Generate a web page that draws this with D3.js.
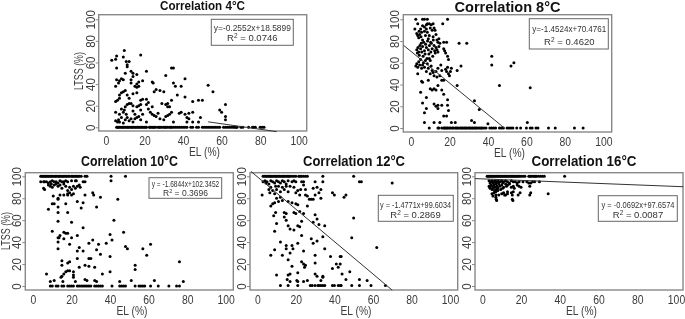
<!DOCTYPE html>
<html>
<head>
<meta charset="utf-8">
<script src="https://cdn.jsdelivr.net/npm/d3@7"></script>
<style>
    html, body { margin: 0; padding: 0; background: #fff; overflow: hidden; }
    svg { display: block; filter: blur(0.35px); }
    text { font-family: "Liberation Sans", Arial, sans-serif; }
</style>
</head>
<body>
<svg id="chart" width="685" height="319"></svg>
<script>
// Tick labels
var tickValues = [0, 20, 40, 60, 80, 100];

// Points per chart, [EL, LTSS]
var points4 = [[3,62],[5,63],[5.5,66],[9,65],[9.5,71],[18,67],[10.5,61],[12,61],[11,58],[5.5,55],[11,56],[13,52],[14,50],[16,49],[10,50],[21,52],[5.5,44],[7,43],[8,45],[9,44],[6.5,41],[14,47],[13,44],[17,42],[19,43],[16,40],[17,38],[15,38],[13,41],[5,38],[24,42],[24.5,41],[31,48],[34,55],[35,55],[35,41],[36,38],[41,45],[39,38],[53,39],[55.5,33],[41,28],[37,30],[25,33],[26,35],[28,34],[30,33],[34,25],[5,24],[6,25],[7,27],[7,30],[8,32],[9,33],[10,34],[11,30],[12,27],[14,31],[16,32],[16,37],[18,25],[19,26],[21,26],[22,23],[24,19],[29,22],[31,21],[32,22],[32,19],[33,19],[33,12],[45,24],[48,25],[50,25],[59,16],[60,14],[62,21],[62,10],[62,7],[5,14],[7,12],[8,17],[9,14],[9.5,16],[10,19],[10.5,12],[11,21],[12,22],[13,22],[14,20],[14,15],[15,12],[16,19],[17,20],[18,21],[18,16],[19,12],[21,21],[22,17],[23,14],[24,12],[25,11],[26,10],[27,13],[28,8],[30,7],[31,10],[32,11],[34,14],[38,13],[39,14],[41,12],[42,9],[43,8],[43,13],[45,14],[49,9],[5,6],[6,5],[6.5,7],[7,5],[8,9],[9,4],[10,7],[11,9],[12,6],[13,8],[14,5],[15,8],[16,9],[17,10],[18,7],[21,5],[35,5],[42,5],[45,5],[48,5]];
var zeros4 = [5.5,6,6.5,7,7.8,8.4,9,9.6,10.3,11,11.5,12.2,13,13.5,14.2,15,15.6,16.3,17,17.6,18.5,19,19.8,20.5,21,22.5,23,23.8,24.5,25,25.8,27,27.6,28.2,29,30,30.6,31.2,32,33,33.5,34.2,35,36,37,38,39,40,41,42,44,45,47,48,50,51,52,53,54,55,56,57,58,59,61,62,63,64,65,66,66.8,67.5,68,70,71,74,76,76.6,77.5,80,81,82];

var points8 = [[2.5,100],[6,100],[7,100],[8.5,100],[19,100],[2,91],[3.5,96],[6,94],[7,93],[8,95],[8.5,96],[9.5,96],[10.5,95],[11.5,96],[16.5,96],[3,87],[3.5,85],[4,83],[4.2,89],[4.5,86],[5,91],[5.2,84],[5.5,88],[6,81],[7,89],[7.5,85],[8,91],[8.5,88],[9,82],[9.5,85],[10,92],[10.2,79],[11,90],[11.5,84],[12,92],[12.5,90],[13,86],[13.5,81],[14,79],[14.5,82],[15,78],[17,79],[18.5,79],[25,78],[29,78],[3,72],[3.3,69],[3.6,74],[4,70],[4.3,67],[4.6,76],[5,73],[5.3,78],[5.6,70],[6,75],[6.3,66],[6.6,79],[7,71],[7.3,68],[7.6,77],[8,74],[8.3,64],[8.6,80],[9,72],[9.3,68],[9.6,76],[10,62],[10.3,70],[10.6,78],[11,73],[11.3,66],[11.6,81],[12,76],[12.3,71],[12.6,69],[13,74],[13.5,72],[14,70],[14.5,75],[17,73],[17.5,71],[18,69],[19,66],[19.5,63],[42,66],[2.5,57],[3,59],[3.5,56],[4,61],[4.5,58],[5,63],[5.5,55],[6,58],[6.5,60],[7,56],[7.5,62],[8,52],[8.5,59],[9,55],[9.5,64],[10,50],[10.5,57],[11,53],[11.5,51],[12,48],[13,52],[13.5,47],[14,55],[15,48],[15.5,58],[16,53],[18,54],[18.5,52],[19,56],[19.5,50],[20,48],[20.5,52],[21,55],[24,53],[26,57],[42,58],[52,57],[53.5,60],[3.5,50],[5.5,43],[6,42],[9,44],[10,36],[11,35],[12,36],[13,35],[14,39],[16,44],[17,44],[24,39],[46,39],[62,37],[5,33],[8,28],[16,35],[17,31],[19,26],[6,23],[14,21],[16,21],[12,22],[13,20],[14,18],[8,18],[7,14],[19,21],[19.5,16],[17,11],[18.5,11],[33,25],[35.5,17],[7,5],[12,5],[15,5],[21,5],[23,5],[31.5,7],[33,5],[40,4],[60.5,5]];
var zeros8 = [9.5,14,14.5,16,17,17.5,18,18.7,19.2,20,20.6,21.5,22,23,23.6,24.2,25,25.8,26.5,27,27.8,28.4,29,29.8,30.4,31,31.7,32.2,33,33.6,34.2,35,35.8,36.5,37,38,39,41,42,43,44,46,47,48,50,51,52,53,55,57,60,62,63,65,66,71.5,75,85,89.5];

var points10 = [[4,95],[5.5,95],[6,95],[7,95],[8,94],[9,95],[10,96],[11,95],[12,95],[13,94],[14,96],[15,95],[16,95],[17,96],[18,95],[20,96],[22,96],[22.5,96],[26,95],[27,95],[40.5,96],[40.5,100],[48,100],[5.5,89],[6,88],[8,92],[9,91],[9.5,93],[10,90],[11,92],[12,93],[13,91],[14,92],[15,89],[16,93],[17,91],[18,87],[19,90],[20,88],[21,91],[22,89],[23,91],[24,92],[24.5,90],[10.5,82],[13,80],[13,79],[14,83],[16,83],[18,84],[18,83],[19,85],[20,83],[21,84],[27,83],[31,85],[31.5,83],[35,81],[44,79],[10,75],[11,75],[8,70],[13,72],[17,75],[13,67],[18,67],[23,77],[25,71],[26,76],[33,72],[13,59],[20,58],[42,60],[10,50],[16,49],[17,48],[18,48],[14,46],[13,44],[13.5,44],[16,43],[20,44],[23,46],[26,53],[40,47],[47,49],[13,40],[13,34],[19,38],[24,35],[23,32],[26,32],[29,39],[31,42],[33,33],[34,38],[35,29],[38,39],[40,27],[41,42],[48,36],[49,34],[57,34],[59,28],[61,38],[53,19],[53,15],[76,22],[23,25],[24,17],[29,25],[30,25],[27,19],[29,18],[32,17],[36,11],[40,13],[7,11],[15,23],[15,19],[18,21],[19,22],[15,9],[16,11],[17,13],[18,14],[19,14],[21,13],[21,10],[21,8],[14.5,8],[9,4],[11,5],[15.5,4],[22,4],[27,6],[28,5],[32,5],[33,4],[45,4],[51,5],[63,5],[78,4]];
var row100At10 = [4,4.6,5.2,5.8,6.5,7,7.7,8.3,9,9.5,10.2,11,11.6,12.2,13,13.6,14.3,15,15.6,16.2,17,17.6,18.4,19,20,20.6,21.2,22,22.7,23.4,24,25,27,28];
var zeros10 = [9,10,12,13,15,16,18,19,20,21,23,24,25,26,27,28,29,30,32,33,34,35,36,41,45,46,47,48,53,55,56,57,58,61,65,70.5,74.5,76];

var points12 = [[3,95],[4,96],[4.5,94],[5,95],[6,93],[7,96],[8,95],[9,94],[10,96],[11,95],[12,94],[13,96],[14,95],[15,93],[16,96],[18,95],[19,96],[20,95],[23,95],[24,95],[30,95],[34,95],[34,100],[50,100],[54,95],[53,95],[70,94],[2.5,83],[6,88],[6.5,85],[7,90],[8,87],[9,84],[9.5,91],[10,88],[11,91],[12,86],[13,90],[14,88],[15,91],[16,86],[17,91],[19,90],[20,85],[21,87],[22,83],[22.5,88],[24,92],[25,88],[25,83],[26,82],[29,89],[30,83],[31,90],[32,85],[33,88],[33,80],[39,85],[40,83],[45,81],[46,83],[7,73],[8,75],[9,76],[10,80],[11,77],[12,81],[13,78],[16,77],[18,76],[20,75],[21,74],[22,68],[26,73],[27,79],[28,79],[29,79],[8.5,64],[9.5,67],[14,67],[15,66],[14,63],[15,60],[19,67],[20,66],[24,66],[30,65],[31,61],[29,58],[32,56],[35,55],[23,59],[50,62],[10,57],[9,50],[16,55],[17,52],[19,51],[21,55],[22,54],[23,46],[28,43],[29,39],[31,41],[34,45],[49,44],[12,40],[15,37],[15,34],[18,37],[18.5,34],[21,39],[9,33],[7,28],[13,28],[16,24],[17,30],[24,32],[30,28],[35,34],[38,27],[43,27],[43.5,27],[62,35],[18,18],[23,22],[24,20],[25,19],[24.5,17],[30,21],[39,16],[41,20],[42,17],[43,20],[48,13],[10,10],[16,10],[17,11],[21,12],[30,11],[31,9],[34,8],[44,11],[15.5,6],[17,4],[20.5,5],[21,4],[24,4],[26,5],[33,5],[34,9],[46,6],[53,6],[57,5]];
var row100At12 = [3,3.7,4.5,5,5.8,6.4,7,7.6,8.3,9,9.7,10.2,11,11.6,12.3,13,13.6,14.2,15,15.7,16.4,17,18,19,20,21.5,22.2,23,24,25,26];
var zeros12 = [12,16,21,27.5,28.5,30,31.5,32,33,34,35,39,40,42,43,43.5,49,53,59,66.5];

var points16 = [[3.5,96],[4,94],[4.5,95],[5,96],[5.5,94],[6,95],[6.5,96],[7,94],[7.5,95],[8,96],[8.5,94],[9,95],[10,96],[10.5,94],[11,95],[12,96],[13,95],[14,94],[15,96],[16,95],[17,95],[18,94],[19,95],[21,95],[23,95],[24,94],[25,94],[26,95],[27,95],[29.5,95],[3.5,91],[4,90],[4,89],[4.5,92],[5,88],[5.3,91],[5.6,89],[6,92],[6.3,87],[6.6,90],[7,93],[7.3,88],[7.6,91],[8,89],[8.5,93],[9,91],[9.5,88],[10,92],[10.5,89],[11,90],[12,93],[12.5,91],[13,92],[14,93],[15,90],[16,91],[16.5,89],[18,92],[19,91],[20,90],[24.5,91],[5,84],[5.5,82],[6,85],[7,86],[7,83],[8,87],[8.5,83],[10,84],[11,85],[11.5,83],[12,83],[13,86],[13,84],[15,85],[15.5,83],[16,86],[18.5,83],[19.5,85],[25,85],[24.5,83],[34,84],[7,81],[7.2,79],[7.4,78],[15.5,79],[15.8,78]];
var row100At16 = [2.5,3,3.6,4.2,4.8,5.4,6,6.6,7.2,7.8,8.4,9,9.6,10.2,10.8,11.4,12,12.6,13.2,13.8,14.4,15,15.6,16.2,16.8,17.4,18,18.6,19.2,20,21,22,24,24.6,25.2,26,26.8,27.4,28,29,30,31,32,42.5];

// Regression coefficients from the boxes
var slopes = [-0.2552, -1.4524, -1.6844, -1.4771, -0.0692];
var intercepts = [18.5899, 70.4761, 102.3452, 99.6034, 97.6574];
// Visible stretch of every fit line in EL, null = no line in the picture
var fitFrom = [53, -3.8, null, -3.3, -3.8];
var fitTo = [88.6, 49, null, 70, 103.8];

var titles = ['Correlation 4\u00b0C', 'Correlation 8\u00b0C', 'Correlation 10\u00b0C', 'Correlation 12\u00b0C', 'Correlation 16\u00b0C'];
var equations = ['y=-0.2552x+18.5899', 'y=-1.4524x+70.4761', 'y = -1.6844x+102.3452', 'y = -1.4771x+99.6034', 'y = -0.0692x+97.6574'];
var rSquared = ['0.0746', '0.4620', '0.3696', '0.2869', '0.0087'];

// Layout, one entry per chart
var layouts = [
    { box: [98.7, 14.7, 306.7, 131], x0: 106, x100: 298.7, y0: 127.3, y100: 19.3, title: [202.5, 10, 85], eq: [211.3, 19.3, 293.3, 45.3, 252.3, 31, 41, 77], font: 9.5, xLabel: [204.5, 156], yLabel: [83, 71] },
    { box: [403.3, 14.7, 611.7, 132], x0: 411, x100: 603.3, y0: 128, y100: 19.3, title: [507.5, 11.5, 106], eq: [529.3, 18.7, 608.3, 49, 569.3, 31.5, 45, 74], font: 9.5, xLabel: [509.5, 157], yLabel: null },
    { box: [25.3, 172.7, 233.3, 290], x0: 33, x100: 225.7, y0: 286, y100: 176.3, title: [129.5, 165.5, 97], eq: [149, 177.7, 221.7, 198.3, 185.5, 186.5, 195.5, 67.5], font: 8.5, xLabel: [132, 315], yLabel: [10, 231] },
    { box: [250, 172.7, 457.7, 290], x0: 257.3, x100: 450, y0: 286, y100: 176.3, title: [354, 165.5, 102], eq: [378.3, 195.3, 453.3, 221.3, 415.5, 207.5, 218, 71], font: 9.5, xLabel: [356, 315], yLabel: null },
    { box: [475, 172.7, 683, 290], x0: 482.3, x100: 676, y0: 286, y100: 176.3, title: [584, 165.5, 105], eq: [598.3, 195.7, 677.3, 221.3, 638, 207.5, 218, 73], font: 9.5, xLabel: [581.5, 315], yLabel: null }
];

var allPoints = [
    points4.concat(zeros4.map(function(x){ return [x, 0]; })),
    points8.concat(zeros8.map(function(x){ return [x, 0]; })),
    points10.concat(zeros10.map(function(x){ return [x, 0]; }), row100At10.map(function(x){ return [x, 100]; })),
    points12.concat(zeros12.map(function(x){ return [x, 0.5]; }), row100At12.map(function(x){ return [x, 100]; })),
    points16.concat(row100At16.map(function(x){ return [x, 100]; }))
];

var gray = '#888',
    textGray = '#3c3c3c';

var svg = d3.select('#chart');

// squeeze glyphs, the reference text is narrower than the plain font
var squeeze = function(selection, factor) {
    selection.each(function(){
        d3.select(this)
            .attr('textLength', this.getComputedTextLength() * factor)
            .attr('lengthAdjust', 'spacingAndGlyphs');
    });
};

layouts.forEach(function(l, i) {

    var x = d3.scaleLinear().domain([0, 100]).range([l.x0, l.x100]);
    var y = d3.scaleLinear().domain([0, 100]).range([l.y0, l.y100]);

    var g = svg.append('g');

    g.append('rect')
        .attr('x', l.box[0])
        .attr('y', l.box[1])
        .attr('width', l.box[2] - l.box[0])
        .attr('height', l.box[3] - l.box[1])
        .attr('fill', 'none')
        .attr('stroke', gray)
        .attr('stroke-width', 1.4);

    var xAxis = g.append('g')
        .attr('transform', 'translate(0,' + l.box[3] + ')')
        .call(d3.axisBottom(x).tickValues(tickValues).tickSize(0).tickPadding(5));
    var yAxis = g.append('g')
        .attr('transform', 'translate(' + l.box[0] + ',0)')
        .call(d3.axisLeft(y).tickValues(tickValues).tickSize(3).tickPadding(0));

    xAxis.select('.domain').remove();
    yAxis.select('.domain').remove();
    yAxis.selectAll('line').attr('stroke', gray);

    xAxis.selectAll('text')
        .attr('fill', textGray)
        .style('font-size', '13px')
        .call(squeeze, 0.8);
    yAxis.selectAll('text')
        .attr('fill', textGray)
        .style('font-size', '13px')
        .attr('transform', 'rotate(-90)')
        .attr('text-anchor', 'middle')
        .attr('x', 0)
        .attr('dy', 0)
        .attr('y', -4)
        .call(squeeze, 0.88);

    g.selectAll('circle')
        .data(allPoints[i])
        .enter().append('circle')
        .attr('cx', function(d){ return x(d[0]); })
        .attr('cy', function(d){ return y(d[1]); })
        .attr('r', 1.5)
        .attr('fill', '#000');

    if (fitFrom[i] !== null) {
        var fit = function(v){ return slopes[i] * v + intercepts[i]; };
        g.append('line')
            .attr('x1', x(fitFrom[i]))
            .attr('y1', y(fit(fitFrom[i])))
            .attr('x2', x(fitTo[i]))
            .attr('y2', y(fit(fitTo[i])))
            .attr('stroke', '#333')
            .attr('stroke-width', 1);
    }

    g.append('rect')
        .attr('x', l.eq[0])
        .attr('y', l.eq[1])
        .attr('width', l.eq[2] - l.eq[0])
        .attr('height', l.eq[3] - l.eq[1])
        .attr('fill', '#fff')
        .attr('stroke', '#666')
        .attr('stroke-width', 1);

    g.append('text')
        .attr('x', l.eq[4])
        .attr('y', l.eq[5])
        .attr('text-anchor', 'middle')
        .attr('textLength', l.eq[7])
        .attr('lengthAdjust', 'spacingAndGlyphs')
        .attr('fill', '#333')
        .style('font-size', l.font + 'px')
        .text(equations[i]);

    var r2 = g.append('text')
        .attr('x', l.eq[4])
        .attr('y', l.eq[6])
        .attr('text-anchor', 'middle')
        .attr('fill', '#333')
        .style('font-size', l.font + 'px');
    r2.append('tspan').text('R');
    r2.append('tspan').attr('dy', -3).style('font-size', (l.font - 3) + 'px').text('2');
    r2.append('tspan').attr('dy', 3).text(' = ' + rSquared[i]);

    g.append('text')
        .attr('x', l.title[0])
        .attr('y', l.title[1])
        .attr('text-anchor', 'middle')
        .attr('textLength', l.title[2])
        .attr('lengthAdjust', 'spacingAndGlyphs')
        .attr('fill', '#111')
        .style('font-size', (l.title[2] > 90 ? 14 : 12.5) + 'px')
        .style('font-weight', 'bold')
        .text(titles[i]);

    g.append('text')
        .attr('x', l.xLabel[0])
        .attr('y', l.xLabel[1])
        .attr('text-anchor', 'middle')
        .attr('textLength', 31)
        .attr('lengthAdjust', 'spacingAndGlyphs')
        .attr('fill', textGray)
        .style('font-size', '13px')
        .text('EL (%)');

    if (l.yLabel) {
        g.append('text')
            .attr('transform', 'translate(' + l.yLabel[0] + ',' + l.yLabel[1] + ') rotate(-90)')
            .attr('text-anchor', 'middle')
            .attr('textLength', 38)
            .attr('lengthAdjust', 'spacingAndGlyphs')
            .attr('fill', textGray)
            .style('font-size', '12.5px')
            .text('LTSS (%)');
    }
});
</script>
</body>
</html>
